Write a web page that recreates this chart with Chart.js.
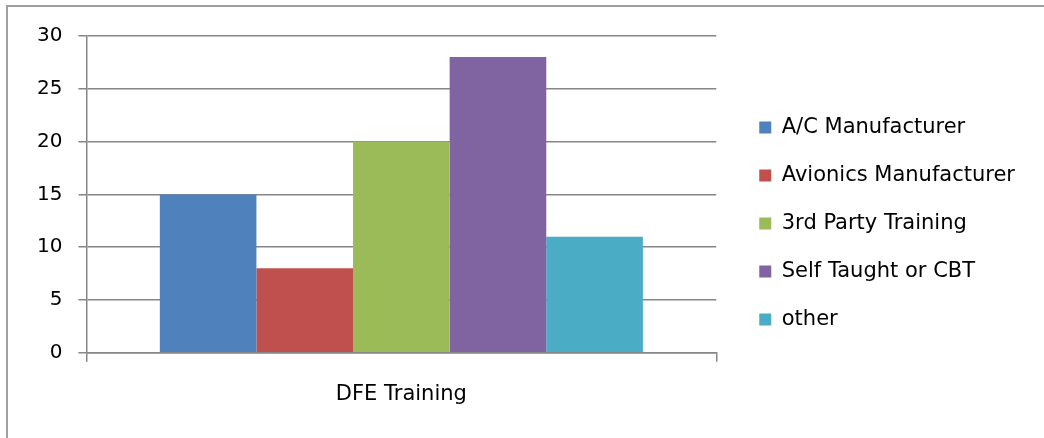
<!DOCTYPE html>
<html>
<head>
<meta charset="utf-8">
<script src="https://cdn.jsdelivr.net/npm/chart.js@4"></script>
<style>
  html, body { margin: 0; padding: 0; background: #fff; overflow: hidden; }
  #wrap { position: relative; width: 1044px; height: 438px; }
  #frame { position: absolute; left: 6px; top: 5px; width: 1060px; height: 460px; border: 2px solid #a0a0a0; box-sizing: border-box; }
  canvas { position: absolute; left: 0; top: 0; }
</style>
</head>
<body>
<div id="wrap">
  <div id="frame"></div>
  <canvas id="c" width="1044" height="438"></canvas>
</div>
<script>
const categories = ["DFE Training"];
const seriesNames = ["A/C Manufacturer", "Avionics Manufacturer", "3rd Party Training", "Self Taught or CBT", "other"];
const acManufacturer = [15];
const avionicsManufacturer = [8];
const thirdPartyTraining = [20];
const selfTaughtOrCBT = [28];
const other = [11];
const seriesColors = ["#4F81BD", "#C0504D", "#9BBB59", "#8064A2", "#4BACC6"];
const yTicks = [0, 5, 10, 15, 20, 25, 30];

const seriesValues = [acManufacturer, avionicsManufacturer, thirdPartyTraining, selfTaughtOrCBT, other];
const FONT = "'DejaVu Sans', sans-serif";
const legendShiftX = 16;
const legendShiftY = -8;

const shiftLegend = {
  id: 'shiftLegend',
  afterLayout(chart) {
    const lg = chart.legend;
    if (lg) {
      lg.left += legendShiftX;
      lg.right = chart.width;
      lg.width = lg.right - lg.left;
      lg.top += legendShiftY;
      lg.bottom += legendShiftY;
    }
  }
};

new Chart(document.getElementById('c'), {
  type: 'bar',
  data: {
    labels: categories,
    datasets: seriesNames.map((name, i) => ({
      label: name,
      data: seriesValues[i],
      backgroundColor: seriesColors[i],
      borderWidth: 0,
      barPercentage: 1.0,
      categoryPercentage: 0.767
    }))
  },
  options: {
    responsive: false,
    animation: false,
    devicePixelRatio: 1,
    layout: { padding: { left: 21, top: 36, right: 96, bottom: 11 } },
    plugins: {
      tooltip: { enabled: false },
      title: { display: false },
      legend: {
        position: 'right',
        align: 'center',
        labels: {
          boxWidth: 12,
          boxHeight: 12,
          padding: 27,
          color: '#000',
          font: { family: FONT, size: 21 }
        }
      }
    },
    scales: {
      x: {
        grid: { drawOnChartArea: false, drawTicks: true, tickLength: 9, color: '#868686', lineWidth: 1.5 },
        border: { display: true, color: '#868686', width: 1.5 },
        ticks: { color: '#000', padding: 20, font: { family: FONT, size: 21 } }
      },
      y: {
        min: 0, max: 30,
        afterBuildTicks(scale) { scale.ticks = yTicks.map(v => ({ value: v })); },
        grid: { color: '#868686', lineWidth: 1.5, tickLength: 8 },
        border: { display: true, color: '#868686', width: 1.5 },
        ticks: { color: '#000', padding: 16, font: { family: FONT, size: 20 } }
      }
    }
  },
  plugins: [shiftLegend]
});
</script>
</body>
</html>
